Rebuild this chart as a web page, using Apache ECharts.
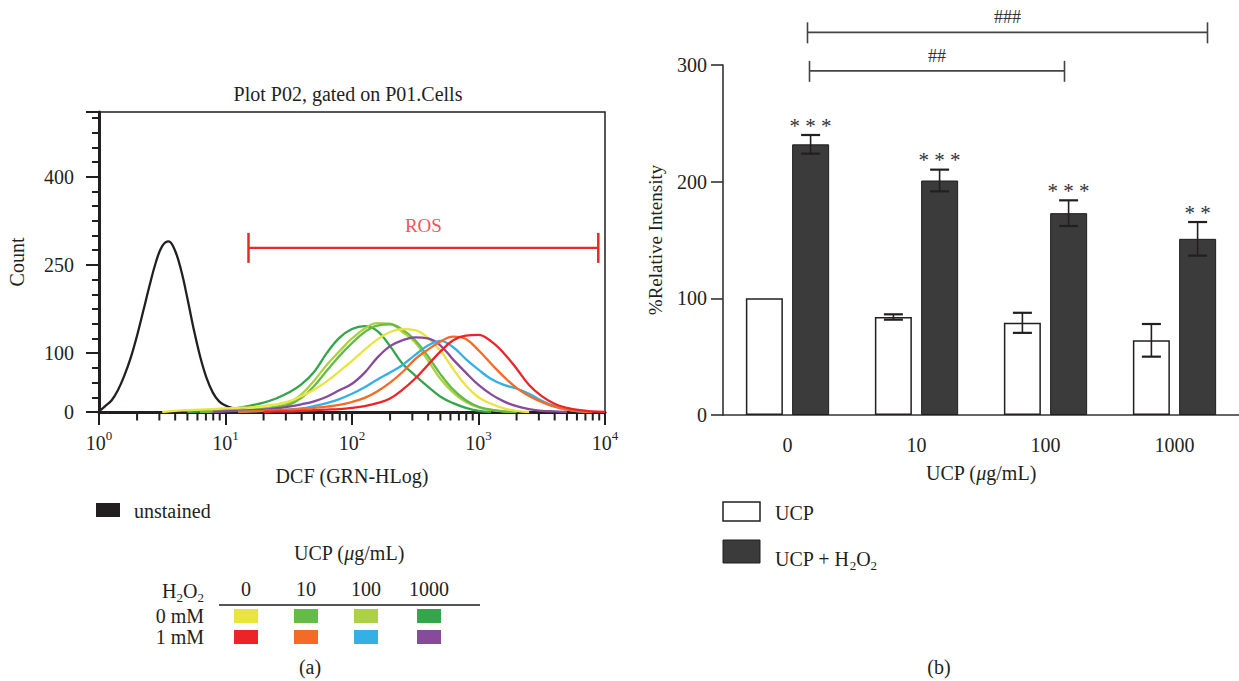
<!DOCTYPE html>
<html>
<head>
<meta charset="utf-8">
<script src="https://cdn.jsdelivr.net/npm/echarts@6/dist/echarts.min.js"></script>
<style>
  html, body { margin: 0; padding: 0; background: #fff; }
  #chart { width: 1239px; height: 681px; }
</style>
</head>
<body>
<div id="chart"></div>
<script>
// ---- (a) DCF histograms, counts read on a 0.1-decade grid ----
const dcf = [1, 1.26, 1.58, 2, 2.51, 3.16, 3.98, 5.01, 6.31, 7.94,
  10, 12.6, 15.8, 20, 25.1, 31.6, 39.8, 50.1, 63.1, 79.4,
  100, 126, 158, 200, 251, 316, 398, 501, 631, 794,
  1000, 1259, 1585, 1995, 2512, 3162, 3981, 5012, 6310, 7943, 10000]
const _ = null
// unstained peak is narrow, so it is read on a finer 0.05-decade grid
const unstainedDcf = [1, 1.12, 1.26, 1.41, 1.58, 1.78, 2, 2.24, 2.51, 2.82,
  3.16, 3.55, 3.98, 4.47, 5.01, 5.62, 6.31, 7.08, 7.94, 8.91,
  10, 11.2, 12.6, 14.1, 15.8, 20, 25.1, 31.6]
const unstained = [1, 10, 20, 37, 61, 92, 130, 172, 215, 255,
  282, 290, 275, 240, 192, 140, 94, 58, 33, 18,
  11, 7, 5, 4, 3, 2, 1, 0]
// 0 mM H2O2
const ucp0 = [_, _, _, _, _, 0, 2, 3, 4, 5, 6, 7, 8, 10, 13, 18, 27, 38, 52, 69,
  87, 106, 123, 136, 141, 139, 126, 104, 73, 45, 25, 14, 6, 2, 0, _, _, _, _, _, _]
const ucp10 = [_, _, _, _, _, _, _, _, 0, 1, 2, 2, 3, 5, 8, 12, 24, 44, 70, 95,
  117, 136, 147, 149, 140, 122, 95, 64, 38, 20, 9, 4, 1, 0, _, _, _, _, _, _, _]
const ucp100 = [_, _, _, _, _, _, _, _, 0, 1, 2, 3, 4, 6, 9, 15, 30, 53, 80, 103,
  125, 142, 151, 150, 136, 118, 88, 56, 33, 17, 8, 3, 1, 0, _, _, _, _, _, _, _]
const ucp1000 = [_, _, _, _, _, _, _, 0, 1, 2, 4, 7, 11, 16, 23, 33, 47, 68, 100, 126,
  141, 146, 138, 112, 82, 62, 43, 26, 15, 7, 2, 0, _, _, _, _, _, _, _, _, _]
// 1 mM H2O2
const h2o2Ucp0 = [_, _, _, _, _, _, _, _, _, _, _, _, _, 0, 1, 1, 2, 3, 4, 5,
  7, 10, 15, 23, 38, 57, 80, 103, 122, 130, 131, 120, 100, 74, 46, 27, 14, 7, 3, 1, 0]
const h2o2Ucp10 = [_, _, _, _, _, _, _, _, _, _, _, 0, 1, 2, 3, 4, 5, 7, 9, 12,
  17, 24, 35, 50, 68, 90, 106, 120, 128, 124, 105, 82, 60, 41, 27, 17, 9, 4, 1, 0, _]
const h2o2Ucp100 = [_, _, _, _, _, _, _, _, _, _, _, 0, 1, 2, 3, 4, 6, 10, 15, 22,
  31, 42, 55, 67, 80, 97, 113, 121, 110, 90, 72, 56, 46, 40, 31, 19, 10, 4, 1, 0, _]
const h2o2Ucp1000 = [_, _, _, _, _, _, _, _, _, 0, 1, 2, 3, 4, 6, 9, 13, 18, 26, 37,
  48, 67, 92, 112, 122, 127, 125, 113, 89, 67, 46, 30, 18, 10, 5, 2, 1, 0, _, _, _]

const decades = [1, 10, 100, 1000, 10000]
const decadeExp = ['0', '1', '2', '3', '4']
const countLabels = [0, 100, 250, 400]
const rosGate = [15.2, 8850]
const rosCount = 279

// ---- (b) relative intensity ----
const ucpDoses = ['0', '10', '100', '1000']
const ucpMean = [100, 84, 79, 64]
const ucpErr = [0, 2.3, 8.6, 14]
const h2o2Mean = [232, 201, 173, 151]
const h2o2Err = [8, 9.3, 11, 14.4]
const starMarks = ['***', '***', '***', '**']
const sigFrom = [0, 0]
const sigTo = [3, 2]
const sigMarks = ['###', '##']

const ink = '#231f20'
const serif = "'Liberation Serif', 'DejaVu Serif', serif"
const f = (size) => size + 'px ' + serif

// row 0 = 0 mM, row 1 = 1 mM; columns follow ucpDoses
const palette = [
  ['#e9e43f', '#66bb46', '#acd046', '#34a54a'],
  ['#ec2428', '#f36b27', '#35b0e3', '#874b9c']
]
const pairs = (xs, ys) => xs.map((x, i) => [x, ys[i]]).filter(p => p[1] != null)
const curves = [
  { data: pairs(unstainedDcf, unstained), color: ink },
  { data: pairs(dcf, ucp1000), color: palette[0][3] },
  { data: pairs(dcf, ucp100), color: palette[0][2] },
  { data: pairs(dcf, ucp10), color: palette[0][1] },
  { data: pairs(dcf, ucp0), color: palette[0][0] },
  { data: pairs(dcf, h2o2Ucp1000), color: palette[1][3] },
  { data: pairs(dcf, h2o2Ucp100), color: palette[1][2] },
  { data: pairs(dcf, h2o2Ucp10), color: palette[1][1] },
  { data: pairs(dcf, h2o2Ucp0), color: palette[1][0] }
]

// unlabelled ticks 2..9 inside each decade
const minorTicks = []
decades.slice(0, 4).forEach(d => { for (let k = 2; k < 10; k++) minorTicks.push(d * k) })

const barHalfStep = 23.1

function errorBars(offset, marks) {
  return function (params, api) {
    const i = api.value(0)
    const mean = api.value(1)
    const err = api.value(2)
    const hi = api.coord([i, mean + err])
    const lo = api.coord([i, mean - err])
    const x = hi[0] + offset
    const kids = []
    if (err > 0) {
      kids.push(
        { type: 'line', shape: { x1: x, y1: hi[1], x2: x, y2: lo[1] }, style: { stroke: ink, lineWidth: 1.6 } },
        { type: 'line', shape: { x1: x - 9.5, y1: hi[1], x2: x + 9.5, y2: hi[1] }, style: { stroke: ink, lineWidth: 2.2 } },
        { type: 'line', shape: { x1: x - 9.5, y1: lo[1], x2: x + 9.5, y2: lo[1] }, style: { stroke: ink, lineWidth: 2.2 } }
      )
    }
    if (marks) {
      kids.push({
        type: 'text', x: x, y: hi[1] + 1,
        style: { text: marks[i].split('').join(' '), font: f(21), fill: '#333', align: 'center', verticalAlign: 'bottom' }
      })
    }
    return { type: 'group', children: kids }
  }
}

const bracketLevel = [328, 295]
const bracketOffset = [[20, 33], [22, 19]]

function sigBracket(params, api) {
  const k = api.value(2)
  const a = api.coord([api.value(0), bracketLevel[k]])
  const b = api.coord([api.value(1), bracketLevel[k]])
  const x1 = a[0] + bracketOffset[k][0]
  const x2 = b[0] + bracketOffset[k][1]
  const y = a[1]
  const st = { stroke: '#444', lineWidth: 1.6 }
  return {
    type: 'group',
    children: [
      { type: 'line', shape: { x1: x1, y1: y, x2: x2, y2: y }, style: st },
      { type: 'line', shape: { x1: x1, y1: y - 10, x2: x1, y2: y + 11 }, style: st },
      { type: 'line', shape: { x1: x2, y1: y - 10, x2: x2, y2: y + 11 }, style: st },
      { type: 'text', x: (x1 + x2) / 2, y: y - 15, style: { text: sigMarks[k], font: f(18), fill: '#333', align: 'center', verticalAlign: 'middle' } }
    ]
  }
}

const series = curves.map(c => ({
  type: 'line',
  xAxisIndex: 0,
  yAxisIndex: 0,
  smooth: 0.4,
  symbol: 'none',
  silent: true,
  data: c.data,
  lineStyle: { color: c.color, width: 2.3 }
}))

// short ticks hanging under the log axis
series.push({
  type: 'scatter', xAxisIndex: 0, yAxisIndex: 0, silent: true, clip: false,
  data: minorTicks.map(v => [v, 0]),
  symbol: 'rect', symbolSize: [2, 7], symbolOffset: [0, 5],
  itemStyle: { color: ink, opacity: 1 },
  z: 3
})

series.push({
  type: 'line',
  xAxisIndex: 0,
  yAxisIndex: 0,
  data: rosGate.map(x => [x, rosCount]),
  symbol: 'rect',
  symbolSize: [2.5, 30],
  showSymbol: true,
  itemStyle: { color: '#e8282a' },
  lineStyle: { color: '#e8282a', width: 2.2 },
  z: 5
})
series.push({
  type: 'scatter',
  xAxisIndex: 0,
  yAxisIndex: 0,
  data: [[Math.sqrt(rosGate[0] * rosGate[1]), rosCount]],
  symbolSize: 1,
  itemStyle: { color: 'rgba(0,0,0,0)' },
  label: { show: true, position: 'top', distance: 12, formatter: 'ROS', color: '#e8282a', fontFamily: serif, fontSize: 19 }
})

series.push(
  {
    type: 'bar', xAxisIndex: 1, yAxisIndex: 2, name: 'UCP',
    data: ucpMean, barWidth: 37, barGap: '25%',
    itemStyle: { color: '#ffffff', borderColor: ink, borderWidth: 1.5 }
  },
  {
    type: 'bar', xAxisIndex: 1, yAxisIndex: 2, name: 'UCP + H2O2',
    data: h2o2Mean, barWidth: 37, barGap: '25%',
    itemStyle: { color: '#3b3b3b', borderColor: '#1e1e1e', borderWidth: 1 }
  },
  {
    type: 'custom', xAxisIndex: 1, yAxisIndex: 2, z: 10,
    data: ucpMean.map((m, i) => [i, m, ucpErr[i]]),
    renderItem: errorBars(-barHalfStep, null)
  },
  {
    type: 'custom', xAxisIndex: 1, yAxisIndex: 2, z: 10,
    data: h2o2Mean.map((m, i) => [i, m, h2o2Err[i]]),
    renderItem: errorBars(barHalfStep, starMarks)
  },
  {
    type: 'custom', xAxisIndex: 1, yAxisIndex: 2, z: 10,
    data: sigFrom.map((a, k) => [a, sigTo[k], k]),
    renderItem: sigBracket
  }
)

// ---- legends and captions ----
const subRich = { s: { fontFamily: serif, fontSize: 13, verticalAlign: 'bottom', lineHeight: 14 } }
const graphics = [
  { type: 'text', x: 348, y: 94, style: { text: 'Plot P02, gated on P01.Cells', font: f(20), fill: ink, align: 'center', verticalAlign: 'middle' } },
  { type: 'rect', shape: { x: 96, y: 503, width: 24, height: 14 }, style: { fill: ink } },
  { type: 'text', x: 134, y: 511, style: { text: 'unstained', font: f(20), fill: ink, verticalAlign: 'middle' } },
  {
    type: 'text', x: 349, y: 553,
    style: { text: 'UCP ({i|μ}g/mL)', font: f(20), fill: ink, align: 'center', verticalAlign: 'middle', rich: { i: { fontFamily: serif, fontSize: 20, fontStyle: 'italic' } } }
  },
  {
    type: 'text', x: 204, y: 591,
    style: { text: 'H{s|2}O{s|2}', font: f(20), lineHeight: 25, fill: ink, align: 'right', verticalAlign: 'middle', rich: subRich }
  },
  { type: 'line', shape: { x1: 219, y1: 605, x2: 480, y2: 605 }, style: { stroke: '#555', lineWidth: 2 } },
  { type: 'text', x: 310, y: 667, style: { text: '(a)', font: f(20), fill: ink, align: 'center', verticalAlign: 'middle' } },
  { type: 'rect', shape: { x: 723, y: 502, width: 37, height: 19 }, style: { fill: '#fff', stroke: ink, lineWidth: 1.5 } },
  { type: 'text', x: 775, y: 513, style: { text: 'UCP', font: f(20), fill: ink, verticalAlign: 'middle' } },
  { type: 'rect', shape: { x: 723, y: 540, width: 37, height: 23 }, style: { fill: '#3b3b3b', stroke: '#1e1e1e', lineWidth: 1 } },
  {
    type: 'text', x: 775, y: 559,
    style: { text: 'UCP + H{s|2}O{s|2}', font: f(20), lineHeight: 25, fill: ink, verticalAlign: 'middle', rich: subRich }
  },
  { type: 'text', x: 939, y: 667, style: { text: '(b)', font: f(20), fill: ink, align: 'center', verticalAlign: 'middle' } }
]
const doseX = [246, 306, 366, 429]
const rowY = [616, 637]
const h2o2Levels = ['0 mM', '1 mM']
ucpDoses.forEach((d, j) => {
  graphics.push({ type: 'text', x: doseX[j], y: 589, style: { text: d, font: f(20), fill: ink, align: 'center', verticalAlign: 'middle' } })
})
h2o2Levels.forEach((lvl, r) => {
  graphics.push({ type: 'text', x: 204, y: rowY[r], style: { text: lvl, font: f(20), fill: ink, align: 'right', verticalAlign: 'middle' } })
  palette[r].forEach((c, j) => {
    graphics.push({ type: 'rect', shape: { x: doseX[j] - 12, y: rowY[r] - 7, width: 24, height: 14 }, style: { fill: c } })
  })
})

const chart = echarts.init(document.getElementById('chart'), null, { renderer: 'svg' })
chart.setOption({
  animation: false,
  backgroundColor: '#fff',
  grid: [
    { left: 99, top: 112, width: 506, height: 300, show: true, borderColor: ink, borderWidth: 1.5 },
    { left: 723, top: 65, width: 520, height: 350 }
  ],
  xAxis: [
    {
      type: 'log', logBase: 10, min: 1, max: 10000, gridIndex: 0, position: 'bottom',
      name: 'DCF (GRN-HLog)', nameLocation: 'middle', nameGap: 54,
      nameTextStyle: { fontFamily: serif, fontSize: 20, color: ink },
      axisLine: { onZero: false, lineStyle: { color: ink, width: 3 } },
      axisTick: { length: 13, customValues: decades, lineStyle: { color: ink, width: 2 } },
      splitLine: { show: false },
      minorTick: { show: false },
      axisLabel: {
        customValues: decades, margin: 17, lineHeight: 28,
        formatter: (v) => '{b|10}{s|' + decadeExp[decades.indexOf(v)] + '}',
        rich: {
          b: { fontFamily: serif, fontSize: 20, color: ink, lineHeight: 28 },
          s: { fontFamily: serif, fontSize: 13, color: ink, lineHeight: 16, verticalAlign: 'top' }
        }
      }
    },
    {
      type: 'category', gridIndex: 1, data: ucpDoses,
      name: 'UCP ({i|μ}g/mL)', nameLocation: 'middle', nameGap: 48,
      nameTextStyle: { fontFamily: serif, fontSize: 20, color: ink, rich: { i: { fontFamily: serif, fontSize: 20, fontStyle: 'italic', color: ink } } },
      axisLine: { lineStyle: { color: '#333', width: 1.6 } },
      axisTick: { alignWithLabel: true, length: 12, lineStyle: { color: '#333', width: 1.6 } },
      axisLabel: { margin: 20, fontFamily: serif, fontSize: 20, color: ink }
    }
  ],
  yAxis: [
    {
      type: 'value', gridIndex: 0, min: 0, max: 510, position: 'left',
      name: 'Count', nameLocation: 'middle', nameGap: 72,
      nameTextStyle: { fontFamily: serif, fontSize: 20, color: ink },
      axisLine: { show: true, onZero: false, lineStyle: { color: ink, width: 3 } },
      axisTick: { show: true, length: 13, customValues: countLabels.concat([510]), lineStyle: { color: ink, width: 2 } },
      axisLabel: { customValues: countLabels, margin: 25, fontFamily: serif, fontSize: 20, color: ink },
      splitLine: { show: false }
    },
    {
      type: 'value', gridIndex: 0, min: 0, max: 510, interval: 25, position: 'left',
      axisLine: { show: false, onZero: false },
      axisTick: { show: true, inside: false, length: 7, lineStyle: { color: ink, width: 2 } },
      axisLabel: { show: false },
      splitLine: { show: false }
    },
    {
      type: 'value', gridIndex: 1, min: 0, max: 300, interval: 100,
      name: '%Relative Intensity', nameLocation: 'middle', nameGap: 58,
      nameTextStyle: { fontFamily: serif, fontSize: 19, color: ink },
      axisLine: { show: true, lineStyle: { color: '#333', width: 1.6 } },
      axisTick: { show: true, length: 12, lineStyle: { color: '#333', width: 1.6 } },
      axisLabel: { margin: 16, fontFamily: serif, fontSize: 20, color: ink },
      splitLine: { show: false }
    }
  ],
  series: series,
  graphic: graphics
})
</script>
</body>
</html>
